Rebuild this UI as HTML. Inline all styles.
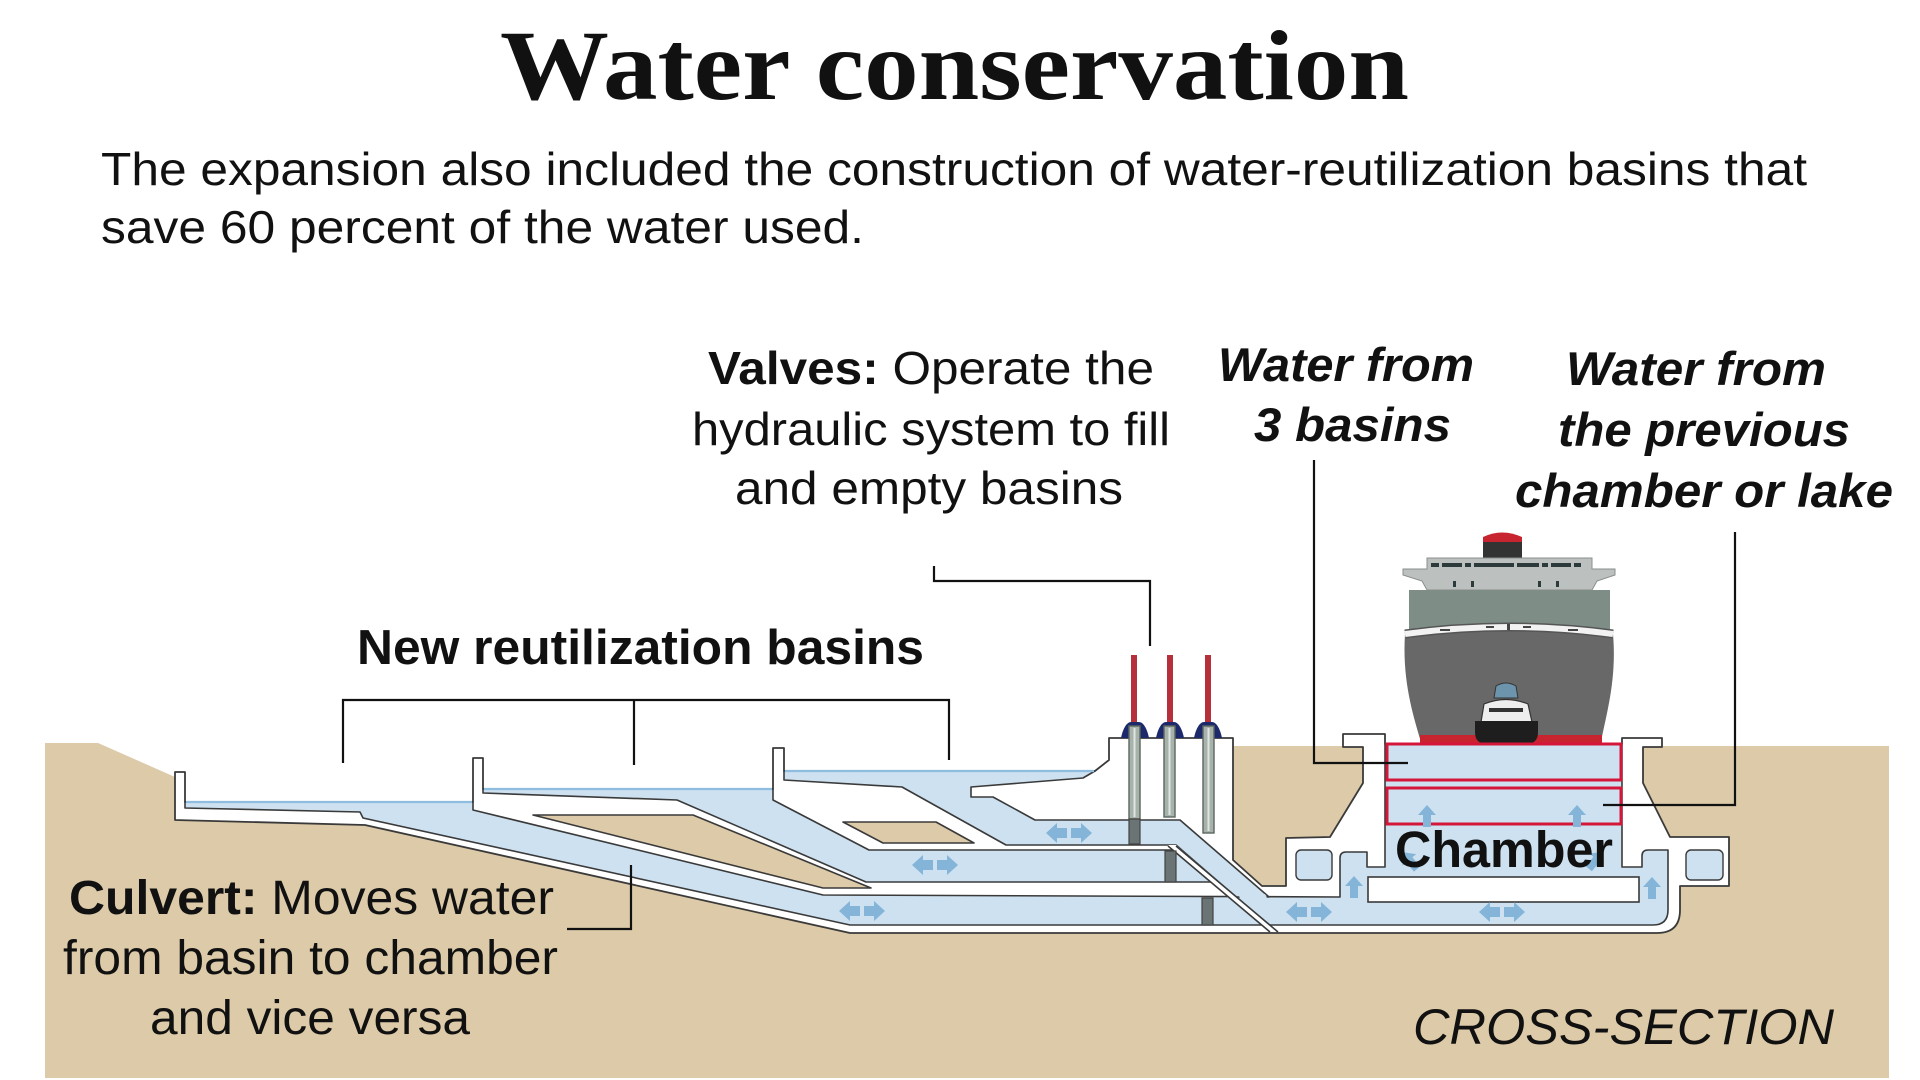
<!DOCTYPE html>
<html><head><meta charset="utf-8"><style>
html,body{margin:0;padding:0;background:#fff;}
svg{display:block}
</style></head><body>
<svg width="1920" height="1080" viewBox="0 0 1920 1080" xmlns="http://www.w3.org/2000/svg">
<rect width="1920" height="1080" fill="#fff"/>

<!-- Title and subtitle -->
<text x="500" y="99" font-family="Liberation Serif, serif" font-weight="bold" font-size="100" fill="#111" textLength="909" lengthAdjust="spacingAndGlyphs">Water conservation</text>
<text x="101" y="185" font-family="Liberation Sans, sans-serif" font-size="46" fill="#111" textLength="1706" lengthAdjust="spacingAndGlyphs">The expansion also included the construction of water-reutilization basins that</text>
<text x="101" y="243" font-family="Liberation Sans, sans-serif" font-size="46" fill="#111" textLength="763" lengthAdjust="spacingAndGlyphs">save 60 percent of the water used.</text>

<!-- Ground -->
<polygon points="45,743 98,743 175,777 175,815 1233,815 1233,746 1889,746 1889,1078 45,1078" fill="#dccaa8"/>

<!-- Concrete envelope -->
<path d="M175,772 L185,772 L185,802 L473,802 L473,758 L483,758 L483,789 L773,789 L773,748 L784,748 L784,771 L1095,771 L1109,760 L1109,738 L1233,738 L1233,860 L1262,886 L1286,886 L1286,838 L1330,837 L1363,783 L1363,747 L1343,747 L1343,734 L1385,734 L1385,744 L1622,744 L1622,738 L1662,738 L1662,747 L1643,747 L1643,783 L1670,837 L1729,837 L1729,886 L1680,886 L1680,910 Q1680,933 1657,933 L850,933 L365,825 L175,820 Z" fill="#fff" stroke="#3a3a3a" stroke-width="1.8" stroke-linejoin="round"/>

<!-- Channel A (basin 1 -> bottom culvert -> chamber) -->
<path d="M185,802 L473,802 L473,810 L823,895 L1340,897 L1340,858 Q1340,852 1346,852 L1367,852 L1367,867 L1385,867 L1385,744 L1622,744 L1622,867 L1642,867 L1642,856 Q1642,850 1648,850 L1668,850 L1668,910 Q1668,925 1653,925 L850,925 L363,818 L360,812 L185,808 Z" fill="#cde1f0" stroke="#3a3a3a" stroke-width="1.6" stroke-linejoin="round"/>

<!-- Channel B (basin 2 -> middle culvert) -->
<path d="M483,789 L773,789 L773,800 L869,850 L1174,850 L1211,882 L866,882 L677,800 L483,793 Z" fill="#cde1f0" stroke="#3a3a3a" stroke-width="1.6" stroke-linejoin="round"/>

<!-- Channel C (basin 3 -> upper culvert -> diagonal) -->
<path d="M784,771 L1095,771 L1083,778 L971,787 L971,797 L993,797 L1035,820 L1180,820 L1269,897 L1236,897 L1176,845 L1006,845 L902,787 L784,780 Z" fill="#cde1f0" stroke="#3a3a3a" stroke-width="1.6" stroke-linejoin="round"/>
<polygon points="1238,894 1265,894 1268,900 1241,900" fill="#cde1f0"/>

<!-- diagonal concrete band -->
<polygon points="1168,845 1176,845 1278,932 1270,932" fill="#fff"/>
<line x1="1168" y1="846" x2="1270" y2="932" stroke="#3a3a3a" stroke-width="1.6"/>
<line x1="1176" y1="846" x2="1278" y2="932" stroke="#3a3a3a" stroke-width="1.6"/>

<!-- tan islands -->
<polygon points="533,815 693,815 871,888 823,888" fill="#dccaa8" stroke="#3a3a3a" stroke-width="1.6" stroke-linejoin="round"/>
<polygon points="843,822 936,822 974,843 883,843" fill="#dccaa8" stroke="#3a3a3a" stroke-width="1.6" stroke-linejoin="round"/>

<!-- water surfaces -->
<line x1="186" y1="802" x2="472" y2="802" stroke="#8fbde0" stroke-width="2.2"/>
<line x1="484" y1="789" x2="772" y2="789" stroke="#8fbde0" stroke-width="2.2"/>
<line x1="785" y1="771" x2="1094" y2="771" stroke="#8fbde0" stroke-width="2.2"/>

<!-- chamber internals -->
<rect x="1368" y="877" width="271" height="25" fill="#fff" stroke="#3a3a3a" stroke-width="1.6"/>
<rect x="1296" y="850" width="36" height="30" rx="5" fill="#cde1f0" stroke="#3a3a3a" stroke-width="1.4"/>
<rect x="1686" y="850" width="37" height="30" rx="5" fill="#cde1f0" stroke="#3a3a3a" stroke-width="1.4"/>

<!-- Ship -->
<g>
  <path d="M1483,543 L1483,537 Q1502,528 1522,537 L1522,543 Z" fill="#c8242f"/>
  <rect x="1483" y="542" width="39" height="17" fill="#333"/>
  <path d="M1427,558 L1592,558 L1592,569 L1615,569 L1615,575 L1597,581 L1592,590 L1427,590 L1422,581 L1403,575 L1403,569 L1427,569 Z" fill="#bcc0be" stroke="#8a8f8d" stroke-width="1"/>
  <g fill="#2c3a3c">
    <rect x="1431" y="563" width="8" height="4"/><rect x="1442" y="563" width="20" height="4"/><rect x="1465" y="563" width="6" height="4"/>
    <rect x="1474" y="563" width="40" height="4"/><rect x="1517" y="563" width="22" height="4"/><rect x="1542" y="563" width="6" height="4"/>
    <rect x="1551" y="563" width="20" height="4"/><rect x="1574" y="563" width="7" height="4"/>
    <rect x="1453" y="581" width="3" height="6"/><rect x="1471" y="581" width="3" height="6"/>
    <rect x="1538" y="581" width="3" height="6"/><rect x="1556" y="581" width="3" height="6"/>
  </g>
  <rect x="1409" y="590" width="201" height="40" fill="#7e8e87"/>
  <path d="M1405,634 Q1509,620 1613,634 C1617,680 1606,715 1601,742 L1421,742 C1413,715 1402,680 1405,634 Z" fill="#676867"/>
  <path d="M1405,634 Q1509,620 1613,634" fill="none" stroke="#555" stroke-width="9"/>
  <path d="M1405,634 Q1509,620 1613,634" fill="none" stroke="#f2f2f2" stroke-width="6"/>
  <g fill="#444"><rect x="1440" y="629" width="10" height="2"/><rect x="1486" y="626" width="8" height="2"/><rect x="1507" y="624" width="3" height="6"/><rect x="1523" y="626" width="8" height="2"/><rect x="1568" y="629" width="10" height="2"/></g>
  <rect x="1420" y="735" width="182" height="9" fill="#c8242f"/>
  <!-- tug -->
  <path d="M1494,698 L1496,686 Q1506,680 1516,686 L1518,698 Z" fill="#6d94ad" stroke="#333" stroke-width="1"/>
  <path d="M1481,722 L1484,704 Q1506,695 1528,704 L1532,722 Z" fill="#eee" stroke="#333" stroke-width="1.2"/>
  <rect x="1489" y="708" width="34" height="4" fill="#333"/>
  <path d="M1475,721 L1538,721 L1538,732 Q1538,744 1526,744 L1487,744 Q1475,744 1475,732 Z" fill="#1e1e1e"/>
</g>

<!-- Chamber red boxes -->
<rect x="1387" y="744" width="234" height="36" fill="#cde1f0" stroke="#d4163a" stroke-width="3"/>
<rect x="1387" y="788" width="234" height="36" fill="#cde1f0" stroke="#d4163a" stroke-width="3"/>

<!-- Valves: rods, caps, pipes, gates -->
<g>
  <rect x="1131" y="655" width="6" height="70" fill="#b5303b"/>
  <rect x="1167" y="655" width="6" height="70" fill="#b5303b"/>
  <rect x="1205" y="655" width="6" height="70" fill="#b5303b"/>
  <g fill="#1c2a6b">
    <path d="M1121,738 C1123,728 1127,722 1131,722 L1139,722 C1143,722 1147,728 1149,738 Z"/>
    <path d="M1156,738 C1158,728 1162,722 1166,722 L1174,722 C1178,722 1182,728 1184,738 Z"/>
    <path d="M1194,738 C1196,728 1200,722 1204,722 L1212,722 C1216,722 1220,728 1222,738 Z"/>
  </g>
  <g fill="#a7b3aa" stroke="#5c6660" stroke-width="1.4">
    <rect x="1129" y="726" width="11" height="93"/>
    <rect x="1164" y="726" width="11" height="91"/>
    <rect x="1203" y="726" width="11" height="107"/>
  </g>
  <g stroke="#dfe6e2" stroke-width="2">
    <line x1="1134.5" y1="728" x2="1134.5" y2="817"/>
    <line x1="1169.5" y1="728" x2="1169.5" y2="815"/>
    <line x1="1208.5" y1="728" x2="1208.5" y2="831"/>
  </g>
  <g fill="#6b7474" stroke="#444" stroke-width="1.2">
    <rect x="1129" y="819" width="11" height="25"/>
    <rect x="1165" y="851" width="11" height="31"/>
    <rect x="1202" y="898" width="11" height="27"/>
  </g>
</g>

<!-- Arrows -->
<defs>
  <g id="da" fill="#84b5d9">
    <path d="M0,10 L11,0 L11,5 L21,5 L21,15 L11,15 L11,20 Z"/>
    <path d="M46,10 L35,0 L35,5 L25,5 L25,15 L35,15 L35,20 Z"/>
  </g>
  <path id="ua" fill="#84b5d9" d="M9,0 L18,10 L13,10 L13,22 L5,22 L5,10 L0,10 Z"/>
</defs>
<use href="#da" x="1046" y="823"/>
<use href="#da" x="912" y="855"/>
<use href="#da" x="839" y="901"/>
<use href="#da" x="1286" y="902"/>
<use href="#da" x="1479" y="902"/>
<use href="#ua" x="1345" y="876"/>
<use href="#ua" x="1643" y="877"/>
<use href="#ua" x="1418" y="805"/>
<use href="#ua" x="1568" y="805"/>
<use href="#ua" transform="translate(1396,858) rotate(-40)"/>
<use href="#ua" transform="translate(1596,846) rotate(40)"/>

<!-- Chamber label -->
<text x="1395" y="867" font-family="Liberation Sans, sans-serif" font-weight="bold" font-size="51" fill="#111" textLength="218" lengthAdjust="spacingAndGlyphs">Chamber</text>

<!-- Leader lines -->
<g fill="none" stroke="#111" stroke-width="2.2">
  <polyline points="343,763 343,700 949,700 949,760"/>
  <line x1="634" y1="700" x2="634" y2="765"/>
  <polyline points="934,566 934,581 1150,581 1150,646"/>
  <polyline points="1314,460 1314,763 1408,763"/>
  <polyline points="1735,532 1735,805 1603,805"/>
  <polyline points="567,929 631,929 631,865"/>
</g>

<!-- Labels -->
<g font-family="Liberation Sans, sans-serif" fill="#111">
  <text x="708" y="384" font-size="46" textLength="446" lengthAdjust="spacingAndGlyphs"><tspan font-weight="bold">Valves:</tspan> Operate the</text>
  <text x="692" y="445" font-size="46" textLength="478" lengthAdjust="spacingAndGlyphs">hydraulic system to fill</text>
  <text x="735" y="504" font-size="46" textLength="388" lengthAdjust="spacingAndGlyphs">and empty basins</text>

  <text x="1218" y="381" font-size="47" font-weight="bold" font-style="italic" textLength="256" lengthAdjust="spacingAndGlyphs">Water from</text>
  <text x="1254" y="441" font-size="47" font-weight="bold" font-style="italic" textLength="197" lengthAdjust="spacingAndGlyphs">3 basins</text>

  <text x="1566" y="385" font-size="47" font-weight="bold" font-style="italic" textLength="260" lengthAdjust="spacingAndGlyphs">Water from</text>
  <text x="1558" y="446" font-size="47" font-weight="bold" font-style="italic" textLength="292" lengthAdjust="spacingAndGlyphs">the previous</text>
  <text x="1515" y="507" font-size="47" font-weight="bold" font-style="italic" textLength="378" lengthAdjust="spacingAndGlyphs">chamber or lake</text>

  <text x="357" y="664" font-size="49" font-weight="bold" textLength="567" lengthAdjust="spacingAndGlyphs">New reutilization basins</text>

  <text x="69" y="914" font-size="48" textLength="485" lengthAdjust="spacingAndGlyphs"><tspan font-weight="bold">Culvert:</tspan> Moves water</text>
  <text x="63" y="974" font-size="48" textLength="495" lengthAdjust="spacingAndGlyphs">from basin to chamber</text>
  <text x="150" y="1034" font-size="48" textLength="320" lengthAdjust="spacingAndGlyphs">and vice versa</text>

  <text x="1413" y="1044" font-size="50" font-style="italic" textLength="421" lengthAdjust="spacingAndGlyphs">CROSS-SECTION</text>
</g>
</svg>
</body></html>
